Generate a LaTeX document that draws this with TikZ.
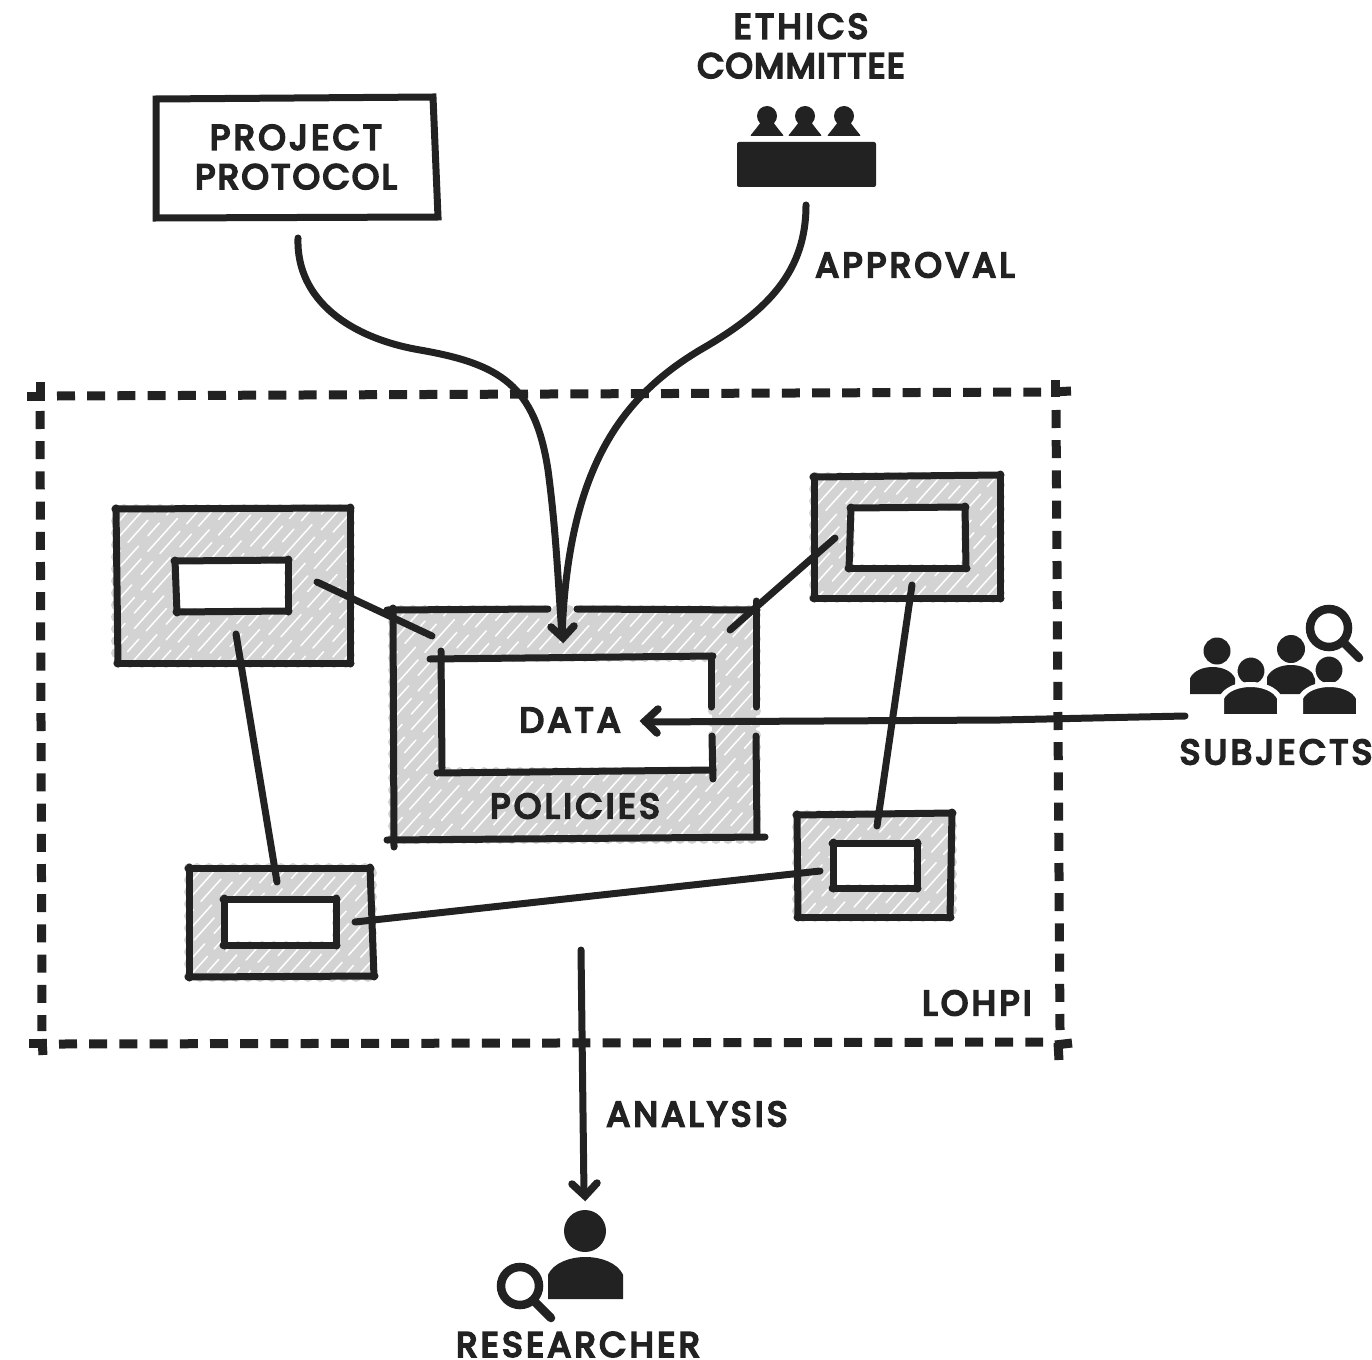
\documentclass[tikz,border=0pt]{standalone}
\usepackage{fontspec}
\newfontfamily\labfont{Poppins}[RawFeature={embolden=6},LetterSpace=10]
\definecolor{ink}{HTML}{222222}
\definecolor{boxgrey}{HTML}{D3D3D3}
\tikzset{
  x=1bp,y=-1bp,
  inkline/.style={draw=ink,line width=7bp,line cap=round,line join=round},
  thinline/.style={draw=ink,line width=7bp,line cap=round,line join=round},
  dashline/.style={draw=ink,line width=9bp,dash pattern=on 18bp off 12.2bp},
  cornertick/.style={draw=ink,line width=9bp},
  chevron/.style={draw=ink,line width=7.5bp,line cap=round,line join=miter},
  lab/.style={text=ink,inner sep=0pt,font=\labfont\fontsize{35}{39.5}\selectfont,align=center},
  anchorbox/.style={inner sep=0pt,draw=none},
  glass/.style={draw=ink,line width=8.5bp,line cap=round},
  scallop/.style={draw=boxgrey,line width=10bp,line cap=round,dash pattern=on 0bp off 12bp},
  hatchline/.style={draw=white,line width=1.5bp,line cap=round,dash pattern=on 30bp off 11bp on 17bp off 14bp on 44bp off 10bp},
}
\newcommand{\skbox}[8]{%
  \draw[thinline] (#1-1,#2) -- (#3+1,#4);
  \draw[thinline] (#3,#4-1) -- (#5,#6+1);
  \draw[thinline] (#5+1,#6) -- (#7-1,#8);
  \draw[thinline] (#7,#8+1) -- (#1,#2-1);
}
\newcommand{\hatchbox}[8]{%
  \fill[boxgrey] (#1,#2) rectangle (#3,#4);
  \draw[scallop] (#1,#2) rectangle (#3,#4);
  \begin{scope}
    \clip (#1,#2) rectangle (#3,#4);
    \pgfmathtruncatemacro{\nk}{(#3-#1+(#4-#2)*0.9)/14}
    \foreach \k in {0,...,\nk}{
      \pgfmathsetmacro{\xb}{#1+\k*14}
      \pgfmathsetmacro{\xc}{\xb-(#4-#2)*0.9}
      \pgfmathsetmacro{\ph}{\k*37}
      \draw[hatchline,dash phase=\ph bp] (\xb,#2) -- (\xc,#4);
    }
  \end{scope}
  \fill[white] (#5,#6) rectangle (#7,#8);
  \draw[scallop,line width=8bp] (#5,#6) rectangle (#7,#8);
}
\newcommand{\sketchperson}[5][]{% options, cx, top, half width, bottom
  \pgfmathsetmacro{\pl}{#2-#4}\pgfmathsetmacro{\pr}{#2+#4}
  \pgfmathsetmacro{\pm}{#3+(#5-#3)*0.42}
  \pgfmathsetmacro{\pc}{#3-(#5-#3)*0.14}
  \filldraw[fill=ink,#1] (\pl,#5) -- (\pl,\pm) .. controls (#2-#4*0.7,\pc) and (#2+#4*0.7,\pc) .. (\pr,\pm) -- (\pr,#5) -- cycle;
}
\begin{document}
\begin{tikzpicture}
\useasboundingbox (0,0) rectangle (1372,1360);
% outer dashed region
\draw[dashline] (57,396) -- (1041,392);
\draw[dashline] (40,411) -- (42,1031);
\draw[dashline] (59,1044) -- (1043,1042);
\draw[dashline] (1056,410) -- (1060,1030);
\draw[cornertick] (27,396) -- (45,396);
\draw[cornertick] (40,382) -- (40,398);
\draw[cornertick] (1055,380) -- (1055,397);
\draw[cornertick] (1053,392) -- (1071,391);
\draw[cornertick] (29,1043) -- (47,1043);
\draw[cornertick] (42,1039) -- (43,1055);
\draw[cornertick] (1055,1045) -- (1072,1043);
\draw[cornertick] (1058,1043) -- (1059,1060);
\node[lab] (lohpi) at (977,1003) {LOHPI};
% hatched boxes
\hatchbox{116}{509}{350}{663}{175}{560}{288}{612}
\hatchbox{814}{477}{1000}{598}{851}{507}{965}{568}
\hatchbox{797}{815}{952}{917}{833}{843}{917}{888}
\hatchbox{189}{868}{372}{977}{224}{899}{336}{945}
\hatchbox{393}{610}{756}{839}{441}{658}{712}{771}
\node[anchorbox,minimum width=234bp,minimum height=154bp] (nodeA) at (233,586) {};
\node[anchorbox,minimum width=186bp,minimum height=121bp] (nodeB) at (907,537) {};
\node[anchorbox,minimum width=155bp,minimum height=102bp] (nodeC) at (875,866) {};
\node[anchorbox,minimum width=183bp,minimum height=109bp] (nodeD) at (280,922) {};
\node[anchorbox,minimum width=363bp,minimum height=229bp] (centre) at (575,725) {};
\skbox{116}{509}{350}{508}{350}{663}{118}{663}
\skbox{175}{561}{288}{560}{288}{611}{177}{612}
\skbox{814}{477}{1000}{475}{1000}{598}{814}{598}
\skbox{851}{508}{965}{507}{966}{568}{849}{568}
\skbox{797}{815}{952}{813}{950}{917}{798}{917}
\skbox{833}{843}{917}{843}{917}{888}{833}{888}
\skbox{189}{868}{370}{868}{374}{976}{189}{977}
\skbox{224}{899}{336}{899}{336}{945}{224}{945}
% centre box, with gaps where arrows pass
\draw[thinline] (387,610) -- (548,609);
\draw[thinline] (577,609) -- (757,610);
\draw[thinline] (393,608) -- (394,847);
\draw[thinline] (387,840) -- (765,837);
\draw[thinline] (756,601) -- (756,707);
\draw[thinline] (756,736) -- (757,836);
\draw[thinline] (430,659) -- (713,656);
\draw[thinline] (441,651) -- (442,768);
\draw[thinline] (437,773) -- (713,770);
\draw[thinline] (711,656) -- (711,707);
\draw[thinline] (712,736) -- (713,779);
\node[lab] (data) at (570,720) {DATA};
\node[lab] (policies) at (575,806) {POLICIES};
% links between hatched boxes
\coordinate (a1) at (317,582); \coordinate (c1) at (432,636);
\coordinate (a2) at (236,634); \coordinate (d2) at (277,882);
\coordinate (b1) at (835,538); \coordinate (c2) at (730,630);
\coordinate (b2) at (912,585); \coordinate (e2) at (877,826);
\coordinate (d1) at (355,922); \coordinate (e1) at (820,871);
\draw[inkline] (a1) -- (c1);
\draw[inkline] (a2) -- (d2);
\draw[inkline] (b1) -- (c2);
\draw[inkline] (b2) -- (e2);
\draw[inkline] (d1) -- (e1);
% project protocol
\node[anchorbox,minimum width=282bp,minimum height=123bp] (protocol) at (296,157) {};
\draw[draw=ink,line width=7bp,line join=miter] (156,99) -- (433,97) -- (438,217) -- (156,218) -- cycle;
\node[lab] (protocoltext) at (296,157) {PROJECT\\{\addfontfeature{LetterSpace=7}PROTOCOL}};
% ethics committee
\node[lab] (ethics) at (801,46) {ETHICS\\{\addfontfeature{LetterSpace=4}COMMITTEE}};
\fill[ink,rounded corners=2bp] (737,142) rectangle (876,187);
\foreach \cx in {767,805,844}{
  \fill[ink] (\cx,116) circle (10bp);
  \fill[ink,rounded corners=1bp] (\cx-17,136) .. controls (\cx-12,130) and (\cx-9,126) .. (\cx-6,122) -- (\cx+6,122) .. controls (\cx+9,126) and (\cx+12,130) .. (\cx+17,136) -- cycle;
}
% incoming curves
\coordinate (protofrom) at (298,238);
\coordinate (ethicsfrom) at (806,205);
\coordinate (datain) at (562,636);
\draw[inkline] (protofrom) .. controls (296,300) and (350,338) .. (420,350) .. controls (500,364) and (535,385) .. (548,470) .. controls (556,530) and (558,580) .. (datain);
\draw[inkline] (ethicsfrom) .. controls (806,270) and (770,310) .. (700,350) .. controls (620,398) and (568,470) .. (datain);
\draw[chevron] (551,627) -- (563,638) -- (574,626);
\node[lab] (approval) at (915,265) {APPROVAL};
% subjects
\coordinate (subjfrom) at (1185,716);
\coordinate (datatip) at (645,722);
\draw[inkline] (subjfrom) -- (1000,720) -- (datatip);
\draw[chevron] (658,709) -- (645,721) -- (657,733);
\draw[glass] (1329,628) circle (19bp);
\draw[glass] (1344,643) -- (1359,658);
\fill[ink] (1217,651) circle (13.5bp);
\sketchperson[draw=none]{1212.5}{667}{22.5}{694}
\fill[ink] (1291,649) circle (14bp);
\sketchperson[draw=none]{1291}{665}{24}{694}
\fill[ink,draw=white,line width=3bp] (1251,671) circle (15bp);
\sketchperson[draw=white,line width=5bp]{1250.5}{684.5}{29}{716.5}
\fill[ink,draw=white,line width=3bp] (1329,670) circle (15bp);
\sketchperson[draw=white,line width=5bp]{1329.5}{684.5}{29}{716.5}
\node[lab] (subjects) at (1276,752) {SUBJECTS};
% researcher
\coordinate (anafrom) at (581,950);
\coordinate (anato) at (584,1195);
\draw[inkline] (anafrom) -- (anato);
\draw[chevron] (572,1184) -- (585,1196) -- (597,1183);
\node[lab] (analysis) at (697,1114) {ANALYSIS};
\fill[ink] (585,1231) circle (21bp);
\sketchperson[draw=none]{585.5}{1257}{37.5}{1299}
\draw[glass] (520,1286) circle (19bp);
\draw[glass] (534,1301) -- (551,1318);
\node[lab] (researcher) at (578,1344.5) {RESEARCHER};
\end{tikzpicture}
\end{document}
